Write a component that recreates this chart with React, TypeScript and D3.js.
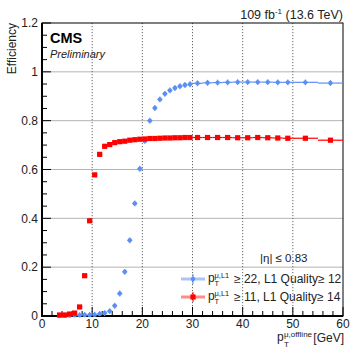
import { useEffect, useRef } from 'react'
import * as d3 from 'd3'

// bin edges (GeV) shared by both curves
const binEdges = [
  3, 4, 5, 6, 7, 8, 9, 10, 11, 12, 13, 14, 15, 16, 17, 18, 19, 20, 21, 22, 23, 24, 25, 26, 27, 28, 29, 30,
  32, 34, 36, 38, 40, 42, 44, 46, 48, 50, 55, 60,
]

const blueEff = [
  0.001, 0.002, 0.002, 0.003, 0.003, 0.004, 0.004, 0.005, 0.008, 0.012, 0.02, 0.042, 0.092, 0.181, 0.31,
  0.461, 0.603, 0.717, 0.8, 0.852, 0.887, 0.91, 0.924, 0.934, 0.941, 0.946, 0.949,
  0.953, 0.955, 0.956, 0.957, 0.958, 0.958, 0.958, 0.958, 0.957, 0.957,
  0.957, 0.954,
]

const redEff = [
  0.004, 0.004, 0.008, 0.012, 0.037, 0.165, 0.39, 0.578, 0.662, 0.695, 0.702, 0.71, 0.714, 0.716, 0.72,
  0.722, 0.724, 0.725, 0.727, 0.727, 0.728, 0.729, 0.729, 0.73, 0.73, 0.731, 0.731,
  0.731, 0.731, 0.731, 0.731, 0.73, 0.73, 0.731, 0.73, 0.729, 0.728,
  0.728, 0.72,
]

const xTicks = [0, 10, 20, 30, 40, 50, 60]
const yTicks = [0, 0.2, 0.4, 0.6, 0.8, 1, 1.2]

const BLUE = '#5b8ff6'
const RED = '#ff0000'
const FONT = '"Liberation Sans", Arial, sans-serif'

export default function App() {
  const svgRef = useRef<SVGSVGElement>(null)

  useEffect(() => {
    if (!svgRef.current) return
    const svg = d3.select(svgRef.current)
    svg.selectAll('*').remove()
    svg.attr('font-family', FONT)

    const left = 42, right = 343, top = 23, bottom = 316
    const x = d3.scaleLinear().domain([0, 60]).range([left, right])
    const y = d3.scaleLinear().domain([0, 1.2]).range([bottom, top])

    // grid
    svg.append('g')
      .selectAll('line')
      .data(yTicks.filter(t => t > 0 && t < 1.2))
      .join('line')
      .attr('x1', left).attr('x2', right)
      .attr('y1', d => y(d)).attr('y2', d => y(d))
      .attr('stroke', '#b4b4b4').attr('stroke-width', 1)

    svg.append('g')
      .selectAll('line')
      .data(xTicks.filter(t => t > 0 && t < 60))
      .join('line')
      .attr('x1', d => x(d)).attr('x2', d => x(d))
      .attr('y1', top).attr('y2', bottom)
      .attr('stroke', '#666').attr('stroke-width', 1)
      .attr('stroke-dasharray', '1.2,1.8')

    // frame
    svg.append('rect')
      .attr('x', left).attr('y', top)
      .attr('width', right - left).attr('height', bottom - top)
      .attr('fill', 'none').attr('stroke', '#000').attr('stroke-width', 1)

    // ticks
    const yMinor = d3.range(0, 1.2001, 0.05)
    svg.append('g')
      .selectAll('line')
      .data(yMinor)
      .join('line')
      .attr('x1', left)
      .attr('x2', d => left + (Math.abs(d / 0.2 - Math.round(d / 0.2)) < 1e-6 ? 9 : 5))
      .attr('y1', d => y(d)).attr('y2', d => y(d))
      .attr('stroke', '#000').attr('stroke-width', 1)

    const xMinor = d3.range(0, 60.001, 2)
    svg.append('g')
      .selectAll('line')
      .data(xMinor)
      .join('line')
      .attr('x1', d => x(d)).attr('x2', d => x(d))
      .attr('y1', bottom)
      .attr('y2', d => bottom - (d % 10 === 0 ? 9 : 5))
      .attr('stroke', '#000').attr('stroke-width', 1)

    // thick axes
    svg.append('line')
      .attr('x1', left).attr('x2', left).attr('y1', top).attr('y2', bottom + 1)
      .attr('stroke', '#000').attr('stroke-width', 2)
    svg.append('line')
      .attr('x1', left - 1).attr('x2', right).attr('y1', bottom).attr('y2', bottom)
      .attr('stroke', '#000').attr('stroke-width', 2)

    // tick labels
    svg.append('g')
      .selectAll('text')
      .data(yTicks)
      .join('text')
      .attr('x', left - 4)
      .attr('y', d => y(d) + 4.3)
      .attr('text-anchor', 'end')
      .attr('font-size', 12)
      .attr('fill', '#222')
      .text(d => (d === 0 || d === 1 ? String(d) : d.toFixed(1)))

    svg.append('g')
      .selectAll('text')
      .data(xTicks)
      .join('text')
      .attr('x', d => x(d))
      .attr('y', 327.5)
      .attr('text-anchor', 'middle')
      .attr('font-size', 12)
      .attr('fill', '#222')
      .text(d => String(d))

    // axis titles
    svg.append('text')
      .attr('transform', `translate(16,${top}) rotate(-90)`)
      .attr('text-anchor', 'end')
      .attr('font-size', 12)
      .attr('fill', '#222')
      .text('Efficiency')

    const xt = svg.append('g').attr('fill', '#222')
    xt.append('text').attr('x', 277).attr('y', 341).attr('font-size', 12).text('p')
    xt.append('text').attr('x', 284).attr('y', 337).attr('font-size', 8).text('μ,offline')
    xt.append('text').attr('x', 284).attr('y', 347).attr('font-size', 8).text('T')
    xt.append('text').attr('x', right + 1).attr('y', 342).attr('text-anchor', 'end').attr('font-size', 12).text('[GeV]')

    // header labels
    svg.append('text')
      .attr('x', 50).attr('y', 43)
      .attr('font-size', 14.5).attr('font-weight', 'bold')
      .text('CMS')
    svg.append('text')
      .attr('x', 50).attr('y', 58)
      .attr('font-size', 11).attr('font-style', 'italic')
      .attr('fill', '#222')
      .text('Preliminary')
    svg.append('text')
      .attr('x', right).attr('y', 19)
      .attr('text-anchor', 'end')
      .attr('font-size', 12.5)
      .attr('fill', '#222')
      .html('109 fb<tspan dy="-5" font-size="8">-1</tspan><tspan dy="5"> (13.6 TeV)</tspan>')

    // data
    const bins = d3.range(binEdges.length - 1).map(i => ({
      lo: binEdges[i],
      hi: binEdges[i + 1],
      c: (binEdges[i] + binEdges[i + 1]) / 2,
    }))

    const drawSeries = (vals: number[], color: string, shape: 'circle' | 'square', errY: number) => {
      const g = svg.append('g')
      const pts = bins.map((b, i) => ({ ...b, v: vals[i] }))
      g.selectAll('line.h')
        .data(pts)
        .join('line')
        .attr('x1', d => x(d.lo)).attr('x2', d => x(d.hi))
        .attr('y1', d => y(d.v)).attr('y2', d => y(d.v))
        .attr('stroke', color).attr('stroke-width', 1.2)
      g.selectAll('line.v')
        .data(pts)
        .join('line')
        .attr('x1', d => x(d.c)).attr('x2', d => x(d.c))
        .attr('y1', d => y(Math.max(0, d.v - errY))).attr('y2', d => y(d.v + errY))
        .attr('stroke', color).attr('stroke-width', 1.2)
      if (shape === 'circle') {
        g.selectAll('circle')
          .data(pts)
          .join('circle')
          .attr('cx', d => x(d.c)).attr('cy', d => y(d.v))
          .attr('r', 2.2)
          .attr('fill', color)
      } else {
        g.selectAll('rect')
          .data(pts)
          .join('rect')
          .attr('x', d => x(d.c) - 2.6).attr('y', d => y(d.v) - 2.6)
          .attr('width', 5.2).attr('height', 5.2)
          .attr('fill', color)
      }
    }

    drawSeries(blueEff, BLUE, 'circle', 0.012)
    drawSeries(redEff, RED, 'square', 0.006)

    // legend
    svg.append('text')
      .attr('x', 260).attr('y', 262)
      .attr('font-size', 11.5).attr('fill', '#222')
      .text('|η| ≤ 0.83')

    const entries = [
      { color: BLUE, light: '#a9c4fa', shape: 'circle', cut: '≥ 22, L1 Quality≥ 12' },
      { color: RED, light: '#ff8a8a', shape: 'square', cut: '≥ 11, L1 Quality≥ 14' },
    ]
    entries.forEach((e, i) => {
      const cy = 279 + i * 18
      const g = svg.append('g')
      g.append('line')
        .attr('x1', 181).attr('x2', 205).attr('y1', cy).attr('y2', cy)
        .attr('stroke', e.light).attr('stroke-width', 3)
      g.append('line')
        .attr('x1', 193).attr('x2', 193).attr('y1', cy - 5).attr('y2', cy + 5)
        .attr('stroke', e.color).attr('stroke-width', 1)
      if (e.shape === 'circle') {
        g.append('circle').attr('cx', 193).attr('cy', cy).attr('r', 2.2).attr('fill', e.color)
      } else {
        g.append('rect').attr('x', 190.4).attr('y', cy - 2.6).attr('width', 5.2).attr('height', 5.2).attr('fill', e.color)
      }
      const t = g.append('g').attr('fill', '#222')
      t.append('text').attr('x', 208).attr('y', cy + 3).attr('font-size', 12).text('p')
      t.append('text').attr('x', 214.5).attr('y', cy - 1.5).attr('font-size', 7.5).text('μ,L1')
      t.append('text').attr('x', 214.5).attr('y', cy + 7).attr('font-size', 7.5).text('T')
      t.append('text').attr('x', 234).attr('y', cy + 4).attr('font-size', 12).text(e.cut)
    })
  }, [])

  return (
    <svg
      ref={svgRef}
      width={350}
      height={349}
      style={{ position: 'absolute', left: 0, top: 0, background: '#fff' }}
    />
  )
}
